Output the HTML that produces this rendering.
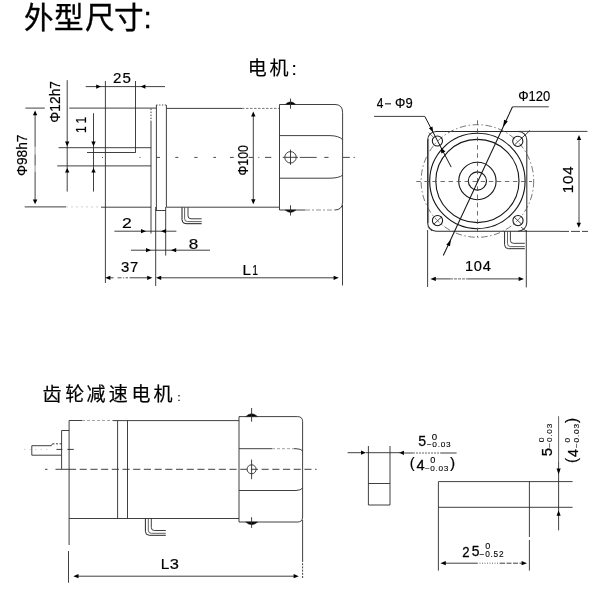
<!DOCTYPE html>
<html><head><meta charset="utf-8"><title>外型尺寸</title>
<style>
html,body{margin:0;padding:0;background:#fff;}
svg{display:block;font-family:"Liberation Sans",sans-serif;filter:grayscale(1);}
</style></head><body>
<svg width="600" height="591" viewBox="0 0 600 591">
<rect x="0" y="0" width="600" height="591" fill="#fff"/>
<text x="24.08 54.11 85.02 113.96 143.6" y="28.2" font-size="29.6" fill="#000" stroke="#000" stroke-width="0.35" font-family="&quot;Liberation Sans&quot;, &quot;Noto Sans CJK SC&quot;, sans-serif">外型尺寸:</text>
<text x="247.71 269.47 291.4" y="75" font-size="19" fill="#000" stroke="#000" stroke-width="0.15" font-family="&quot;Liberation Sans&quot;, &quot;Noto Sans CJK SC&quot;, sans-serif">电机:</text>
<text x="42.4 65.14 86.6 108.81 131.62 153.47" y="400.7" font-size="19" fill="#000" stroke="#000" stroke-width="0.19" font-family="&quot;Liberation Sans&quot;, &quot;Noto Sans CJK SC&quot;, sans-serif">齿轮减速电机<tspan x="177.4" font-size="11">:</tspan></text>
<line x1="25.4" y1="108.1" x2="44.8" y2="108.1" stroke="#2b2b2b" stroke-width="0.9"/>
<line x1="69.3" y1="108.1" x2="156.3" y2="108.1" stroke="#2b2b2b" stroke-width="0.9"/>
<line x1="24.7" y1="206.9" x2="66" y2="206.9" stroke="#2b2b2b" stroke-width="0.9"/>
<line x1="66" y1="206.9" x2="100" y2="206.9" stroke="#ccc" stroke-width="0.9" stroke-dasharray="2 3"/>
<line x1="101" y1="207.2" x2="151" y2="207.2" stroke="#2b2b2b" stroke-width="0.9"/>
<line x1="35.1" y1="113" x2="35.1" y2="146.8" stroke="#2b2b2b" stroke-width="0.9"/>
<line x1="35.1" y1="146.8" x2="35.1" y2="154.4" stroke="#777" stroke-width="0.8"/>
<line x1="35.1" y1="154.4" x2="35.1" y2="165.6" stroke="#2b2b2b" stroke-width="0.9"/>
<line x1="35.1" y1="165.6" x2="35.1" y2="171.7" stroke="#777" stroke-width="0.8"/>
<line x1="35.1" y1="171.7" x2="35.1" y2="202" stroke="#2b2b2b" stroke-width="0.9"/>
<polygon points="35.10,110.40 37.30,115.20 32.90,115.20" fill="#000"/>
<polygon points="35.10,204.30 32.90,199.50 37.30,199.50" fill="#000"/>
<text x="0" y="0" font-size="100" transform="translate(26.61 176.09) rotate(-90) scale(0.13756 0.14502)" stroke="#000" stroke-width="1.3">Φ98h7</text>
<line x1="67.2" y1="80.2" x2="67.2" y2="191.6" stroke="#2b2b2b" stroke-width="0.9"/>
<polygon points="67.20,146.20 65.00,141.60 69.40,141.60" fill="#000"/>
<polygon points="67.20,168.00 69.40,172.60 65.00,172.60" fill="#000"/>
<text x="0" y="0" font-size="100" transform="translate(59.72 122.69) rotate(-90) scale(0.13825 0.14384)" stroke="#000" stroke-width="1.3">Φ12h7</text>
<line x1="93.5" y1="113.2" x2="93.5" y2="191.6" stroke="#2b2b2b" stroke-width="0.9"/>
<polygon points="93.50,146.20 91.30,141.60 95.70,141.60" fill="#000"/>
<polygon points="93.50,168.00 95.70,172.60 91.30,172.60" fill="#000"/>
<text x="0" y="0" font-size="100" transform="translate(85.90 132.92) rotate(-90) scale(0.12061 0.15262)" stroke="#000" stroke-width="1.3">1</text>
<text x="0" y="0" font-size="100" transform="translate(85.90 123.42) rotate(-90) scale(0.12061 0.15262)" stroke="#000" stroke-width="1.3">1</text>
<line x1="58.6" y1="147.7" x2="151.1" y2="147.7" stroke="#2b2b2b" stroke-width="0.9"/>
<line x1="87" y1="152.5" x2="135.5" y2="152.5" stroke="#2b2b2b" stroke-width="0.9"/>
<line x1="57.2" y1="165.9" x2="151.1" y2="165.9" stroke="#2b2b2b" stroke-width="0.9"/>
<line x1="105.4" y1="81" x2="105.4" y2="283" stroke="#2b2b2b" stroke-width="0.9"/>
<line x1="135.5" y1="81" x2="135.5" y2="152.7" stroke="#2b2b2b" stroke-width="0.9"/>
<line x1="151.0" y1="121" x2="151.0" y2="233.6" stroke="#2b2b2b" stroke-width="0.9"/>
<line x1="151.0" y1="108.6" x2="151.0" y2="121" stroke="#2b2b2b" stroke-width="0.9" stroke-dasharray="1.5 1.5"/>
<line x1="156.4" y1="105" x2="156.4" y2="210.4" stroke="#2b2b2b" stroke-width="0.9"/>
<line x1="166.4" y1="105" x2="166.4" y2="207.3" stroke="#2b2b2b" stroke-width="0.9"/>
<line x1="156.4" y1="105.0" x2="166.4" y2="105.0" stroke="#2b2b2b" stroke-width="0.9" stroke-dasharray="1.2 1.6"/>
<line x1="155.7" y1="210.5" x2="165.8" y2="210.5" stroke="#2b2b2b" stroke-width="0.9"/>
<line x1="155.7" y1="207" x2="155.7" y2="286" stroke="#2b2b2b" stroke-width="0.9"/>
<line x1="165.7" y1="207" x2="165.7" y2="255.6" stroke="#2b2b2b" stroke-width="0.9"/>
<line x1="166.4" y1="108.4" x2="242" y2="108.4" stroke="#2b2b2b" stroke-width="0.9"/>
<line x1="242" y1="108.4" x2="279" y2="108.4" stroke="#666" stroke-width="0.9" stroke-dasharray="2.5 1.5"/>
<line x1="166.4" y1="207.2" x2="279" y2="207.2" stroke="#2b2b2b" stroke-width="0.9"/>
<path d="M305,210 H279.5 V104.5 H335 Q342.6,104.5 342.6,112.5 V202 Q342.6,210 334.6,210" stroke="#2b2b2b" stroke-width="0.9" fill="none"/>
<line x1="305" y1="210" x2="334.6" y2="210" stroke="#888" stroke-width="0.9" stroke-dasharray="5 2 2 2"/>
<path d="M279.5,135.6 H330 Q339,135.8 342.6,139.6" stroke="#2b2b2b" stroke-width="0.9" fill="none"/>
<path d="M279.5,178.2 H330 Q339,178 342.6,175.2" stroke="#2b2b2b" stroke-width="0.9" fill="none"/>
<line x1="342.5" y1="205" x2="342.5" y2="285.5" stroke="#2b2b2b" stroke-width="0.9"/>
<circle cx="290.5" cy="157.3" r="5.7" stroke="#2b2b2b" stroke-width="0.9" fill="none"/>
<line x1="282.8" y1="157.3" x2="298" y2="157.3" stroke="#2b2b2b" stroke-width="0.9"/>
<line x1="290.5" y1="149.6" x2="290.5" y2="164.8" stroke="#2b2b2b" stroke-width="0.9"/>
<path d="M285.2,104.5 Q290.5,99.2 295.9,104.5 Z" stroke="#2b2b2b" stroke-width="0.6" fill="#000"/>
<line x1="290.5" y1="98.6" x2="290.5" y2="108.6" stroke="#2b2b2b" stroke-width="0.9"/>
<path d="M285.2,210 Q290.5,214.8 295.9,210 Z" stroke="#2b2b2b" stroke-width="0.6" fill="#000"/>
<line x1="290.5" y1="205.3" x2="290.5" y2="215.5" stroke="#2b2b2b" stroke-width="0.9"/>
<line x1="102" y1="157.4" x2="103" y2="157.4" stroke="#333" stroke-width="0.9"/>
<line x1="139.5" y1="157.4" x2="140.5" y2="157.4" stroke="#333" stroke-width="0.9"/>
<line x1="156.3" y1="157.4" x2="160" y2="157.4" stroke="#333" stroke-width="0.9"/>
<line x1="175.3" y1="157.4" x2="178.3" y2="157.4" stroke="#333" stroke-width="0.9"/>
<line x1="194.3" y1="157.4" x2="197.5" y2="157.4" stroke="#333" stroke-width="0.9"/>
<line x1="213.3" y1="157.4" x2="216" y2="157.4" stroke="#333" stroke-width="0.9"/>
<line x1="230" y1="157.4" x2="233.8" y2="157.4" stroke="#333" stroke-width="0.9"/>
<line x1="248.7" y1="157.4" x2="253" y2="157.4" stroke="#333" stroke-width="0.9"/>
<line x1="258.3" y1="157.4" x2="259.3" y2="157.4" stroke="#333" stroke-width="0.9"/>
<line x1="265" y1="157.4" x2="271.3" y2="157.4" stroke="#333" stroke-width="0.9"/>
<line x1="299.8" y1="157.4" x2="316.7" y2="157.4" stroke="#333" stroke-width="0.9"/>
<line x1="324.3" y1="157.4" x2="328.5" y2="157.4" stroke="#333" stroke-width="0.9"/>
<line x1="343" y1="157.4" x2="349.8" y2="157.4" stroke="#333" stroke-width="0.9"/>
<line x1="353.5" y1="157.4" x2="354.8" y2="157.4" stroke="#333" stroke-width="0.9"/>
<line x1="253.3" y1="114" x2="253.3" y2="201.5" stroke="#2b2b2b" stroke-width="0.9"/>
<polygon points="253.30,111.60 255.50,116.60 251.10,116.60" fill="#000"/>
<polygon points="253.30,204.20 251.10,199.20 255.50,199.20" fill="#000"/>
<text x="0" y="0" font-size="100" transform="translate(248.26 175.40) rotate(-90) scale(0.12236 0.14407)" stroke="#000" stroke-width="1.3">Φ100</text>
<line x1="85.7" y1="86.6" x2="165" y2="86.6" stroke="#2b2b2b" stroke-width="0.9"/>
<polygon points="101.00,86.60 96.20,88.70 96.20,84.50" fill="#000"/>
<polygon points="140.60,86.60 145.40,84.50 145.40,88.70" fill="#000"/>
<text x="0" y="0" font-size="100" transform="translate(112.99 82.75) scale(0.15091 0.14972)" letter-spacing="7.00" stroke="#000" stroke-width="1.3">25</text>
<line x1="114.4" y1="231.2" x2="176.4" y2="231.2" stroke="#2b2b2b" stroke-width="0.9"/>
<polygon points="146.00,231.20 141.00,233.30 141.00,229.10" fill="#000"/>
<polygon points="161.00,231.20 166.00,229.10 166.00,233.30" fill="#000"/>
<text x="0" y="0" font-size="100" transform="translate(122.12 228.00) scale(0.17561 0.15181)" stroke="#000" stroke-width="1.3">2</text>
<line x1="131" y1="250.2" x2="210" y2="250.2" stroke="#2b2b2b" stroke-width="0.9"/>
<polygon points="151.00,250.20 146.00,252.30 146.00,248.10" fill="#000"/>
<polygon points="171.00,250.20 176.20,248.10 176.20,252.30" fill="#000"/>
<text x="0" y="0" font-size="100" transform="translate(188.66 249.45) scale(0.17049 0.14972)" stroke="#000" stroke-width="1.3">8</text>
<line x1="110" y1="277.8" x2="113.5" y2="277.8" stroke="#2b2b2b" stroke-width="0.9"/>
<line x1="117.6" y1="277.8" x2="128" y2="277.8" stroke="#444" stroke-width="0.9" stroke-dasharray="4 1.5 1 1.5"/>
<line x1="129.6" y1="277.8" x2="148" y2="277.8" stroke="#2b2b2b" stroke-width="0.9"/>
<polygon points="105.20,277.80 110.40,275.70 110.40,279.90" fill="#000"/>
<polygon points="152.40,277.80 147.20,279.90 147.20,275.70" fill="#000"/>
<text x="0" y="0" font-size="100" transform="translate(121.03 272.26) scale(0.14899 0.14124)" letter-spacing="5.00" stroke="#000" stroke-width="1.3">37</text>
<line x1="160" y1="277.8" x2="334" y2="277.8" stroke="#2b2b2b" stroke-width="0.9"/>
<polygon points="156.00,277.80 161.20,275.70 161.20,279.90" fill="#000"/>
<polygon points="338.80,277.80 333.60,279.90 333.60,275.70" fill="#000"/>
<text x="0" y="0" font-size="100" transform="translate(242.55 275.00) scale(0.15196 0.15262)" stroke="#000" stroke-width="1.3">L</text>
<text x="0" y="0" font-size="100" transform="translate(252.20 275.00) scale(0.10437 0.15262)" stroke="#000" stroke-width="1.3">1</text>
<path d="M182.0,207.4 V219.7 Q182.0,223.7 186.0,223.7 H201.7" stroke="#1a1a1a" stroke-width="1.0" fill="none"/>
<path d="M184.6,207.4 V218.7 Q184.6,221.6 187.6,221.6 H201.7" stroke="#444" stroke-width="0.85" fill="none"/>
<path d="M188.0,207.4 V215.8 Q188.0,218.8 191.0,218.8 H201.7" stroke="#2a2a2a" stroke-width="0.9" fill="none"/>
<rect x="427.6" y="131.4" width="99.2" height="99.8" rx="8.6" ry="8.6" fill="none" stroke="#2b2b2b" stroke-width="1.05"/>
<circle cx="477.4" cy="181.0" r="47.7" stroke="#151515" stroke-width="1.1" fill="none"/>
<circle cx="477.4" cy="181.0" r="41.6" stroke="#151515" stroke-width="1.1" fill="none"/>
<circle cx="477.4" cy="181.0" r="18.7" stroke="#151515" stroke-width="1.1" fill="none"/>
<circle cx="477.4" cy="181.0" r="9.1" stroke="#151515" stroke-width="1.1" fill="none"/>
<circle cx="477.4" cy="181.0" r="56.3" stroke="#555" stroke-width="0.8" fill="none" stroke-dasharray="6.5 2.5 1.5 2.5"/>
<circle cx="437.4" cy="141.0" r="5.1" stroke="#151515" stroke-width="1.05" fill="none"/>
<circle cx="517.8" cy="141.3" r="5.1" stroke="#151515" stroke-width="1.05" fill="none"/>
<circle cx="437.5" cy="220.6" r="5.1" stroke="#151515" stroke-width="1.05" fill="none"/>
<circle cx="518" cy="220.6" r="5.1" stroke="#151515" stroke-width="1.05" fill="none"/>
<line x1="514.8" y1="144.6" x2="530" y2="130.4" stroke="#2b2b2b" stroke-width="0.9"/>
<line x1="434" y1="224" x2="441.5" y2="217" stroke="#2b2b2b" stroke-width="0.9"/>
<line x1="514" y1="217" x2="522" y2="224.5" stroke="#2b2b2b" stroke-width="0.9"/>
<line x1="521" y1="227" x2="527" y2="232" stroke="#2b2b2b" stroke-width="0.8"/>
<line x1="427.6" y1="227" x2="432" y2="231" stroke="#2b2b2b" stroke-width="0.8"/>
<line x1="428.5" y1="132.5" x2="433.6" y2="137.4" stroke="#555" stroke-width="0.7"/>
<line x1="428.6" y1="139" x2="428.6" y2="223" stroke="#555" stroke-width="0.7"/>
<line x1="416.3" y1="181.5" x2="532" y2="181.5" stroke="#4a4a4a" stroke-width="0.8" stroke-dasharray="4.5 3.55"/>
<line x1="477.5" y1="120.3" x2="477.5" y2="237" stroke="#4a4a4a" stroke-width="0.8" stroke-dasharray="4.5 3.75"/>
<line x1="518" y1="131.4" x2="587.5" y2="131.4" stroke="#2b2b2b" stroke-width="0.9"/>
<line x1="518" y1="231.3" x2="560" y2="231.3" stroke="#2b2b2b" stroke-width="0.9"/>
<line x1="560" y1="231.4" x2="588" y2="231.4" stroke="#2b2b2b" stroke-width="0.9" stroke-dasharray="9 2"/>
<line x1="427.6" y1="230" x2="427.6" y2="287" stroke="#2b2b2b" stroke-width="0.9"/>
<line x1="526.3" y1="230" x2="526.3" y2="287.4" stroke="#2b2b2b" stroke-width="0.9"/>
<line x1="579.0" y1="138" x2="579.0" y2="225" stroke="#2b2b2b" stroke-width="0.9"/>
<polygon points="579.00,135.00 581.20,140.00 576.80,140.00" fill="#000"/>
<polygon points="578.80,227.80 576.60,222.80 581.00,222.80" fill="#000"/>
<text x="0" y="0" font-size="100" transform="translate(572.75 193.26) rotate(-90) scale(0.15244 0.14972)" letter-spacing="5.00" stroke="#000" stroke-width="1.3">104</text>
<line x1="435" y1="278.9" x2="450" y2="278.9" stroke="#2b2b2b" stroke-width="0.9"/>
<line x1="450" y1="278.9" x2="468" y2="278.9" stroke="#555" stroke-width="0.9" stroke-dasharray="3 1"/>
<line x1="468" y1="278.9" x2="520" y2="278.9" stroke="#2b2b2b" stroke-width="0.9"/>
<polygon points="430.40,278.90 435.80,276.80 435.80,281.00" fill="#000"/>
<polygon points="524.00,278.90 518.60,281.00 518.60,276.80" fill="#000"/>
<text x="0" y="0" font-size="100" transform="translate(464.88 270.86) scale(0.14672 0.14124)" letter-spacing="5.00" stroke="#000" stroke-width="1.3">104</text>
<line x1="548.8" y1="106.8" x2="512.5" y2="106.8" stroke="#2b2b2b" stroke-width="0.9"/>
<line x1="512.5" y1="106.8" x2="443.3" y2="255.5" stroke="#151515" stroke-width="1.05"/>
<polygon points="503.00,127.00 504.15,119.81 507.77,121.50" fill="#000"/>
<polygon points="450.90,239.60 449.97,246.34 446.34,244.65" fill="#000"/>
<text x="0" y="0" font-size="100" transform="translate(518.26 101.06) scale(0.12995 0.14407)" stroke="#000" stroke-width="1.3">Φ120</text>
<line x1="374" y1="116.4" x2="424.8" y2="116.4" stroke="#2b2b2b" stroke-width="0.9"/>
<line x1="424.8" y1="116.4" x2="451.2" y2="167.1" stroke="#151515" stroke-width="1.0"/>
<polygon points="433.20,132.30 428.89,128.34 432.43,126.50" fill="#000"/>
<polygon points="440.80,147.60 445.38,151.42 441.30,153.54" fill="#000"/>
<text x="0" y="0" font-size="100" transform="translate(376.73 108.20) scale(0.11907 0.15553)" stroke="#000" stroke-width="1.3">4</text>
<line x1="385" y1="103.8" x2="391" y2="103.8" stroke="#2b2b2b" stroke-width="1.2"/>
<text x="0" y="0" font-size="100" transform="translate(395.06 108.05) scale(0.12965 0.15113)" stroke="#000" stroke-width="1.3">Φ9</text>
<path d="M504.6,231.3 V244.7 Q504.6,248.7 508.6,248.7 H524.8" stroke="#1a1a1a" stroke-width="0.95" fill="none"/>
<path d="M507.5,231.3 V243.6 Q507.5,246.6 510.5,246.6 H524.8" stroke="#444" stroke-width="0.85" fill="none"/>
<path d="M510.4,231.3 V240.3 Q510.4,243.3 513.4,243.3 H524.8" stroke="#2a2a2a" stroke-width="0.9" fill="none"/>
<line x1="69.1" y1="420.4" x2="69.1" y2="545" stroke="#2b2b2b" stroke-width="0.9"/>
<line x1="68.5" y1="551" x2="68.5" y2="582.7" stroke="#2b2b2b" stroke-width="0.9"/>
<line x1="69.1" y1="420.5" x2="82" y2="420.5" stroke="#2b2b2b" stroke-width="0.9"/>
<line x1="82" y1="420.5" x2="113" y2="420.5" stroke="#999" stroke-width="0.9" stroke-dasharray="3 2"/>
<line x1="113" y1="420.6" x2="239" y2="420.6" stroke="#2b2b2b" stroke-width="0.9"/>
<line x1="117.6" y1="420.6" x2="117.6" y2="518.5" stroke="#2b2b2b" stroke-width="0.9"/>
<line x1="127.5" y1="420.6" x2="127.5" y2="518.5" stroke="#2b2b2b" stroke-width="0.9"/>
<line x1="69.1" y1="518.5" x2="239" y2="518.5" stroke="#2b2b2b" stroke-width="0.9"/>
<path d="M69.1,430.5 H61.6 V469" stroke="#2b2b2b" stroke-width="0.9" fill="none"/>
<path d="M61.6,455.2 H31.8 V445.7 H51.3 L52.5,443.8" stroke="#2b2b2b" stroke-width="0.9" fill="none"/>
<line x1="52.5" y1="443.8" x2="61.6" y2="443.8" stroke="#2b2b2b" stroke-width="0.9" stroke-dasharray="2 1.5"/>
<line x1="56.4" y1="449.4" x2="62.3" y2="449.4" stroke="#2b2b2b" stroke-width="0.9"/>
<line x1="67.4" y1="449.4" x2="73.8" y2="449.4" stroke="#2b2b2b" stroke-width="0.9"/>
<line x1="24" y1="449.4" x2="50" y2="449.4" stroke="#bbb" stroke-width="0.7" stroke-dasharray="1.5 4"/>
<line x1="45" y1="469.3" x2="47.5" y2="469.3" stroke="#2b2b2b" stroke-width="0.9"/>
<line x1="55.5" y1="469.3" x2="69" y2="469.3" stroke="#2b2b2b" stroke-width="0.9"/>
<line x1="69" y1="469.3" x2="316.5" y2="469.3" stroke="#2b2b2b" stroke-width="0.9" stroke-dasharray="7.1 3.6"/>
<path d="M239,416.6 H297.6 Q302.6,416.6 302.6,421.6 V517 Q302.6,522 297.6,522 H239 Z" stroke="#2b2b2b" stroke-width="0.9" fill="none"/>
<line x1="239" y1="448.7" x2="272" y2="448.7" stroke="#2b2b2b" stroke-width="0.9"/>
<line x1="272" y1="448.7" x2="294" y2="448.7" stroke="#999" stroke-width="0.9" stroke-dasharray="3 2"/>
<path d="M294,448.7 H296 Q301,448.9 302.6,450.8" stroke="#2b2b2b" stroke-width="0.9" fill="none"/>
<path d="M239,490.5 H296 Q301,490.3 302.6,488" stroke="#2b2b2b" stroke-width="0.9" fill="none"/>
<line x1="302.6" y1="520" x2="302.6" y2="560" stroke="#2b2b2b" stroke-width="0.9"/>
<line x1="302.6" y1="560" x2="302.6" y2="579" stroke="#2b2b2b" stroke-width="0.9" stroke-dasharray="2 1.2"/>
<circle cx="251.6" cy="469.3" r="4.5" stroke="#2b2b2b" stroke-width="0.9" fill="none"/>
<line x1="251.6" y1="459.6" x2="251.6" y2="479.2" stroke="#2b2b2b" stroke-width="0.9"/>
<path d="M245.7,416.6 Q251.6,410.8 257.6,416.6 Z" stroke="#2b2b2b" stroke-width="0.6" fill="#000"/>
<line x1="251.6" y1="408" x2="251.6" y2="421.7" stroke="#2b2b2b" stroke-width="0.9"/>
<path d="M245.7,522 Q251.6,527.4 257.6,522 Z" stroke="#2b2b2b" stroke-width="0.6" fill="#000"/>
<line x1="251.6" y1="517.2" x2="251.6" y2="527.9" stroke="#2b2b2b" stroke-width="0.9"/>
<path d="M145.4,518.5 V531.3 Q145.4,535.3 149.4,535.3 H165.8" stroke="#1a1a1a" stroke-width="0.95" fill="none"/>
<path d="M148.3,518.5 V530.3 Q148.3,533.3 151.3,533.3 H165.8" stroke="#444" stroke-width="0.85" fill="none"/>
<path d="M151.3,518.5 V527.5 Q151.3,530.5 154.3,530.5 H165.8" stroke="#2a2a2a" stroke-width="0.9" fill="none"/>
<line x1="77" y1="576.2" x2="295" y2="576.2" stroke="#2b2b2b" stroke-width="0.9"/>
<polygon points="73.30,576.20 78.50,574.10 78.50,578.30" fill="#000"/>
<polygon points="298.80,576.20 293.60,578.30 293.60,574.10" fill="#000"/>
<text x="0" y="0" font-size="100" transform="translate(160.73 569.20) scale(0.15422 0.15553)" stroke="#000" stroke-width="1.3">L</text>
<text x="0" y="0" font-size="100" transform="translate(169.87 569.05) scale(0.16451 0.15113)" stroke="#000" stroke-width="1.3">3</text>
<line x1="368.4" y1="446" x2="368.4" y2="505" stroke="#2b2b2b" stroke-width="0.9"/>
<line x1="390" y1="446" x2="390" y2="505" stroke="#2b2b2b" stroke-width="0.9"/>
<line x1="368.4" y1="483.5" x2="390" y2="483.5" stroke="#2b2b2b" stroke-width="0.9"/>
<line x1="368.4" y1="505" x2="390" y2="505" stroke="#2b2b2b" stroke-width="0.9"/>
<line x1="347.6" y1="452.7" x2="363" y2="452.7" stroke="#2b2b2b" stroke-width="0.9"/>
<polygon points="366.00,452.70 361.00,454.80 361.00,450.60" fill="#000"/>
<line x1="366" y1="452.7" x2="400" y2="452.7" stroke="#2b2b2b" stroke-width="0.9"/>
<polygon points="399.00,452.80 404.00,450.70 404.00,454.90" fill="#000"/>
<line x1="403" y1="453" x2="413" y2="453" stroke="#2b2b2b" stroke-width="0.9"/>
<line x1="413" y1="453" x2="441" y2="453" stroke="#555" stroke-width="0.9" stroke-dasharray="2 1"/>
<line x1="441" y1="453" x2="456.6" y2="453" stroke="#2b2b2b" stroke-width="0.9"/>
<text x="0" y="0" font-size="100" transform="translate(418.13 446.06) scale(0.14131 0.14475)" stroke="#000" stroke-width="1.8">5</text>
<text x="0" y="0" font-size="100" transform="translate(431.72 440.31) scale(0.09727 0.09039)" stroke="#000" stroke-width="1.3">0</text>
<text x="0" y="0" font-size="100" transform="translate(426.69 447.12) scale(0.08330 0.07768)" letter-spacing="9.00" stroke="#000" stroke-width="1.3">−0.03</text>
<text x="0" y="0" font-size="100" transform="translate(409.79 468.12) scale(0.14709 0.14383)" stroke="#000" stroke-width="1.3">(</text>
<text x="0" y="0" font-size="100" transform="translate(416.56 469.60) scale(0.14685 0.14826)" stroke="#000" stroke-width="1.8">4</text>
<text x="0" y="0" font-size="100" transform="translate(430.24 463.02) scale(0.09204 0.08474)" stroke="#000" stroke-width="1.3">0</text>
<text x="0" y="0" font-size="100" transform="translate(424.69 470.63) scale(0.08223 0.07627)" letter-spacing="9.00" stroke="#000" stroke-width="1.3">−0.03</text>
<text x="0" y="0" font-size="100" transform="translate(450.11 468.12) scale(0.15464 0.14383)" stroke="#000" stroke-width="1.3">)</text>
<line x1="438.4" y1="481.6" x2="572.6" y2="481.6" stroke="#2b2b2b" stroke-width="0.9"/>
<line x1="438.4" y1="507.3" x2="572.6" y2="507.3" stroke="#2b2b2b" stroke-width="0.9"/>
<line x1="438.4" y1="481.6" x2="438.4" y2="570.6" stroke="#2b2b2b" stroke-width="0.9"/>
<line x1="529.4" y1="481.6" x2="529.4" y2="537" stroke="#2b2b2b" stroke-width="0.9"/>
<line x1="529.4" y1="540" x2="529.4" y2="570.6" stroke="#2b2b2b" stroke-width="0.9"/>
<line x1="445" y1="563.2" x2="477" y2="563.2" stroke="#2b2b2b" stroke-width="0.9"/>
<line x1="477" y1="563.2" x2="500" y2="563.2" stroke="#555" stroke-width="0.9" stroke-dasharray="1 1.5"/>
<line x1="500" y1="563.2" x2="522" y2="563.2" stroke="#2b2b2b" stroke-width="0.9" stroke-dasharray="5 1.5"/>
<polygon points="440.40,563.20 445.80,561.10 445.80,565.30" fill="#000"/>
<polygon points="527.00,563.20 521.60,565.30 521.60,561.10" fill="#000"/>
<text x="0" y="0" font-size="100" transform="translate(462.34 556.50) scale(0.13170 0.15324)" stroke="#000" stroke-width="1.8">2</text>
<text x="0" y="0" font-size="100" transform="translate(471.64 556.35) scale(0.13920 0.15335)" stroke="#000" stroke-width="1.8">5</text>
<text x="0" y="0" font-size="100" transform="translate(485.15 549.22) scale(0.08995 0.08616)" stroke="#000" stroke-width="1.3">0</text>
<text x="0" y="0" font-size="100" transform="translate(479.59 557.42) scale(0.08313 0.08474)" letter-spacing="9.00" stroke="#000" stroke-width="1.3">−0.52</text>
<line x1="558.6" y1="416.2" x2="558.6" y2="462" stroke="#555" stroke-width="0.9"/>
<line x1="558.6" y1="462" x2="558.6" y2="530.3" stroke="#2b2b2b" stroke-width="0.9"/>
<polygon points="558.60,474.30 556.50,468.50 560.70,468.50" fill="#000"/>
<polygon points="558.60,510.60 560.70,515.80 556.50,515.80" fill="#000"/>
<text x="0" y="0" font-size="100" transform="translate(551.76 456.20) rotate(-90) scale(0.14975 0.14762)" stroke="#000" stroke-width="1.8">5</text>
<text x="0" y="0" font-size="100" transform="translate(544.13 442.34) rotate(-90) scale(0.08786 0.07486)" stroke="#000" stroke-width="1.3">0</text>
<text x="0" y="0" font-size="100" transform="translate(552.44 447.71) rotate(-90) scale(0.08330 0.06638)" letter-spacing="9.00" stroke="#000" stroke-width="1.3">−0.03</text>
<text x="0" y="0" font-size="100" transform="translate(576.51 463.06) rotate(-90) scale(0.15464 0.15886)" stroke="#000" stroke-width="1.3">(</text>
<text x="0" y="0" font-size="100" transform="translate(578.00 457.12) rotate(-90) scale(0.14090 0.14971)" stroke="#000" stroke-width="1.8">4</text>
<text x="0" y="0" font-size="100" transform="translate(570.23 442.53) rotate(-90) scale(0.08368 0.07203)" stroke="#000" stroke-width="1.3">0</text>
<text x="0" y="0" font-size="100" transform="translate(579.13 448.11) rotate(-90) scale(0.08402 0.06780)" letter-spacing="9.00" stroke="#000" stroke-width="1.3">−0.03</text>
<text x="0" y="0" font-size="100" transform="translate(576.51 423.09) rotate(-90) scale(0.15464 0.15886)" stroke="#000" stroke-width="1.3">)</text>
</svg>
</body></html>
